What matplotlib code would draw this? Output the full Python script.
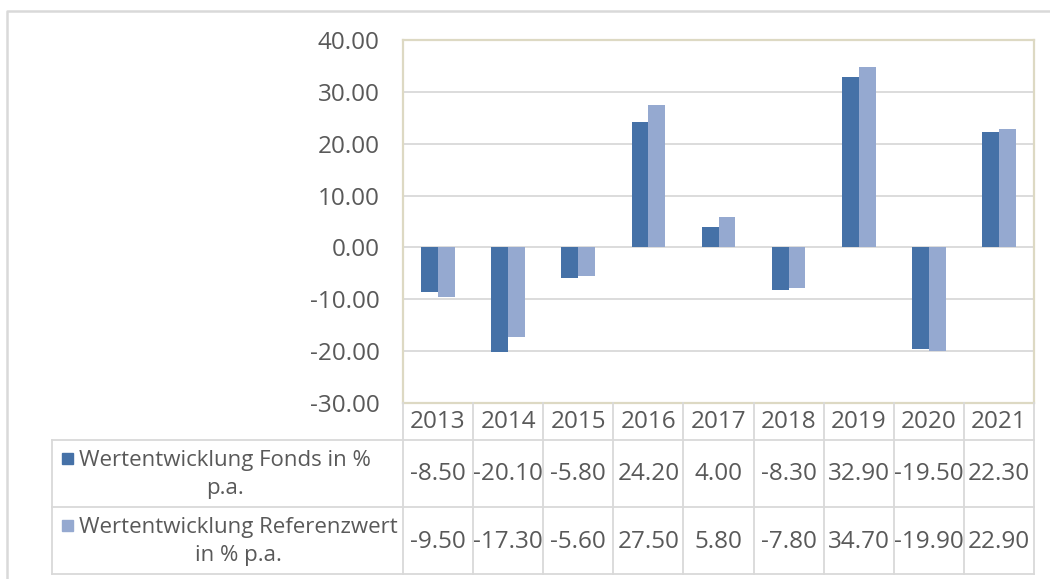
import matplotlib.pyplot as plt
import numpy as np
from matplotlib.transforms import blended_transform_factory

years = ["2013", "2014", "2015", "2016", "2017", "2018", "2019", "2020", "2021"]
fonds = [-8.50, -20.10, -5.80, 24.20, 4.00, -8.30, 32.90, -19.50, 22.30]
referenz = [-9.50, -17.30, -5.60, 27.50, 5.80, -7.80, 34.70, -19.90, 22.90]
series_labels = ["Wertentwicklung Fonds in %\np.a.",
                 "Wertentwicklung Referenzwert\nin % p.a."]

DARK = "#4571A7"
LIGHT = "#95A9D0"
GRID = "#D9D9D9"
FRAME = "#DDD9C3"
TEXT = "#595959"
FS = 17.5

plt.rcParams["font.family"] = ["Open Sans", "DejaVu Sans"]

W, H = 1050, 579
fig = plt.figure(figsize=(W / 100, H / 100), dpi=100)


def fx(px):
    return px / W


def fy(py):
    return 1 - py / H


# plot area in pixels
left, right, top, bottom = 403, 1034, 40, 403
ax = fig.add_axes([fx(left), fy(bottom), fx(right) - fx(left), fy(top) - fy(bottom)])

x = np.arange(len(years))
bw = 0.24
ax.bar(x - bw / 2, fonds, bw, color=DARK, zorder=3)
ax.bar(x + bw / 2, referenz, bw, color=LIGHT, zorder=3)

ax.set_xlim(-0.5, len(years) - 0.5)
ax.set_ylim(-30, 40)
yt = np.arange(-30, 41, 10)
ax.set_yticks(yt)
ax.set_yticklabels([f"{v:.2f}" for v in yt])
ax.tick_params(axis="y", length=0, pad=17, labelsize=FS, labelcolor=TEXT)
ax.set_xticks([])
ax.yaxis.grid(True, color=GRID, lw=1.3, zorder=0)
for s in ax.spines.values():
    s.set_color(FRAME)
    s.set_linewidth(1.6)
    s.set_zorder(4)

# data table below the plot
hdr_bot, row1_bot, row2_bot = 440, 507, 574
lab_left = 52
px_per_unit = (right - left) / len(years)


def line(x0, y0, x1, y1):
    fig.add_artist(plt.Line2D([fx(x0), fx(x1)], [fy(y0), fy(y1)],
                              color=GRID, lw=1.3, zorder=1))


for yb in (hdr_bot, row1_bot, row2_bot):
    line(lab_left, yb, right, yb)
line(lab_left, hdr_bot, lab_left, row2_bot)
for i in range(len(years) + 1):
    xb = left + i * px_per_unit
    line(xb, bottom, xb, row2_bot)

tr = blended_transform_factory(ax.transData, fig.transFigure)
rows = [(fonds, hdr_bot, row1_bot), (referenz, row1_bot, row2_bot)]

for i, yr in enumerate(years):
    ax.text(i, fy((bottom + hdr_bot) / 2), yr, transform=tr, ha="center",
            va="center", fontsize=FS, color=TEXT, clip_on=False)
    for vals, y0, y1 in rows:
        ax.text(i, fy((y0 + y1) / 2 + 1), f"{vals[i]:.2f}", transform=tr,
                ha="center", va="center", fontsize=FS, color=TEXT, clip_on=False)

for lab, col, (vals, y0, y1) in zip(series_labels, [DARK, LIGHT], rows):
    yc = (y0 + y1) / 2
    fig.add_artist(plt.Rectangle((fx(62), fy(yc - 10)), fx(11), 11 / H,
                                 color=col, transform=fig.transFigure))
    fig.text(fx(79), fy(yc + 1), lab, ha="left", va="center", multialignment="center",
             fontsize=16, color=TEXT, linespacing=1.4)

# outer chart frame
fig.add_artist(plt.Line2D([fx(7), fx(7), fx(W)], [0, fy(11), fy(11)],
                          color=GRID, lw=1.8))

fig.savefig("out.png", dpi=100)
